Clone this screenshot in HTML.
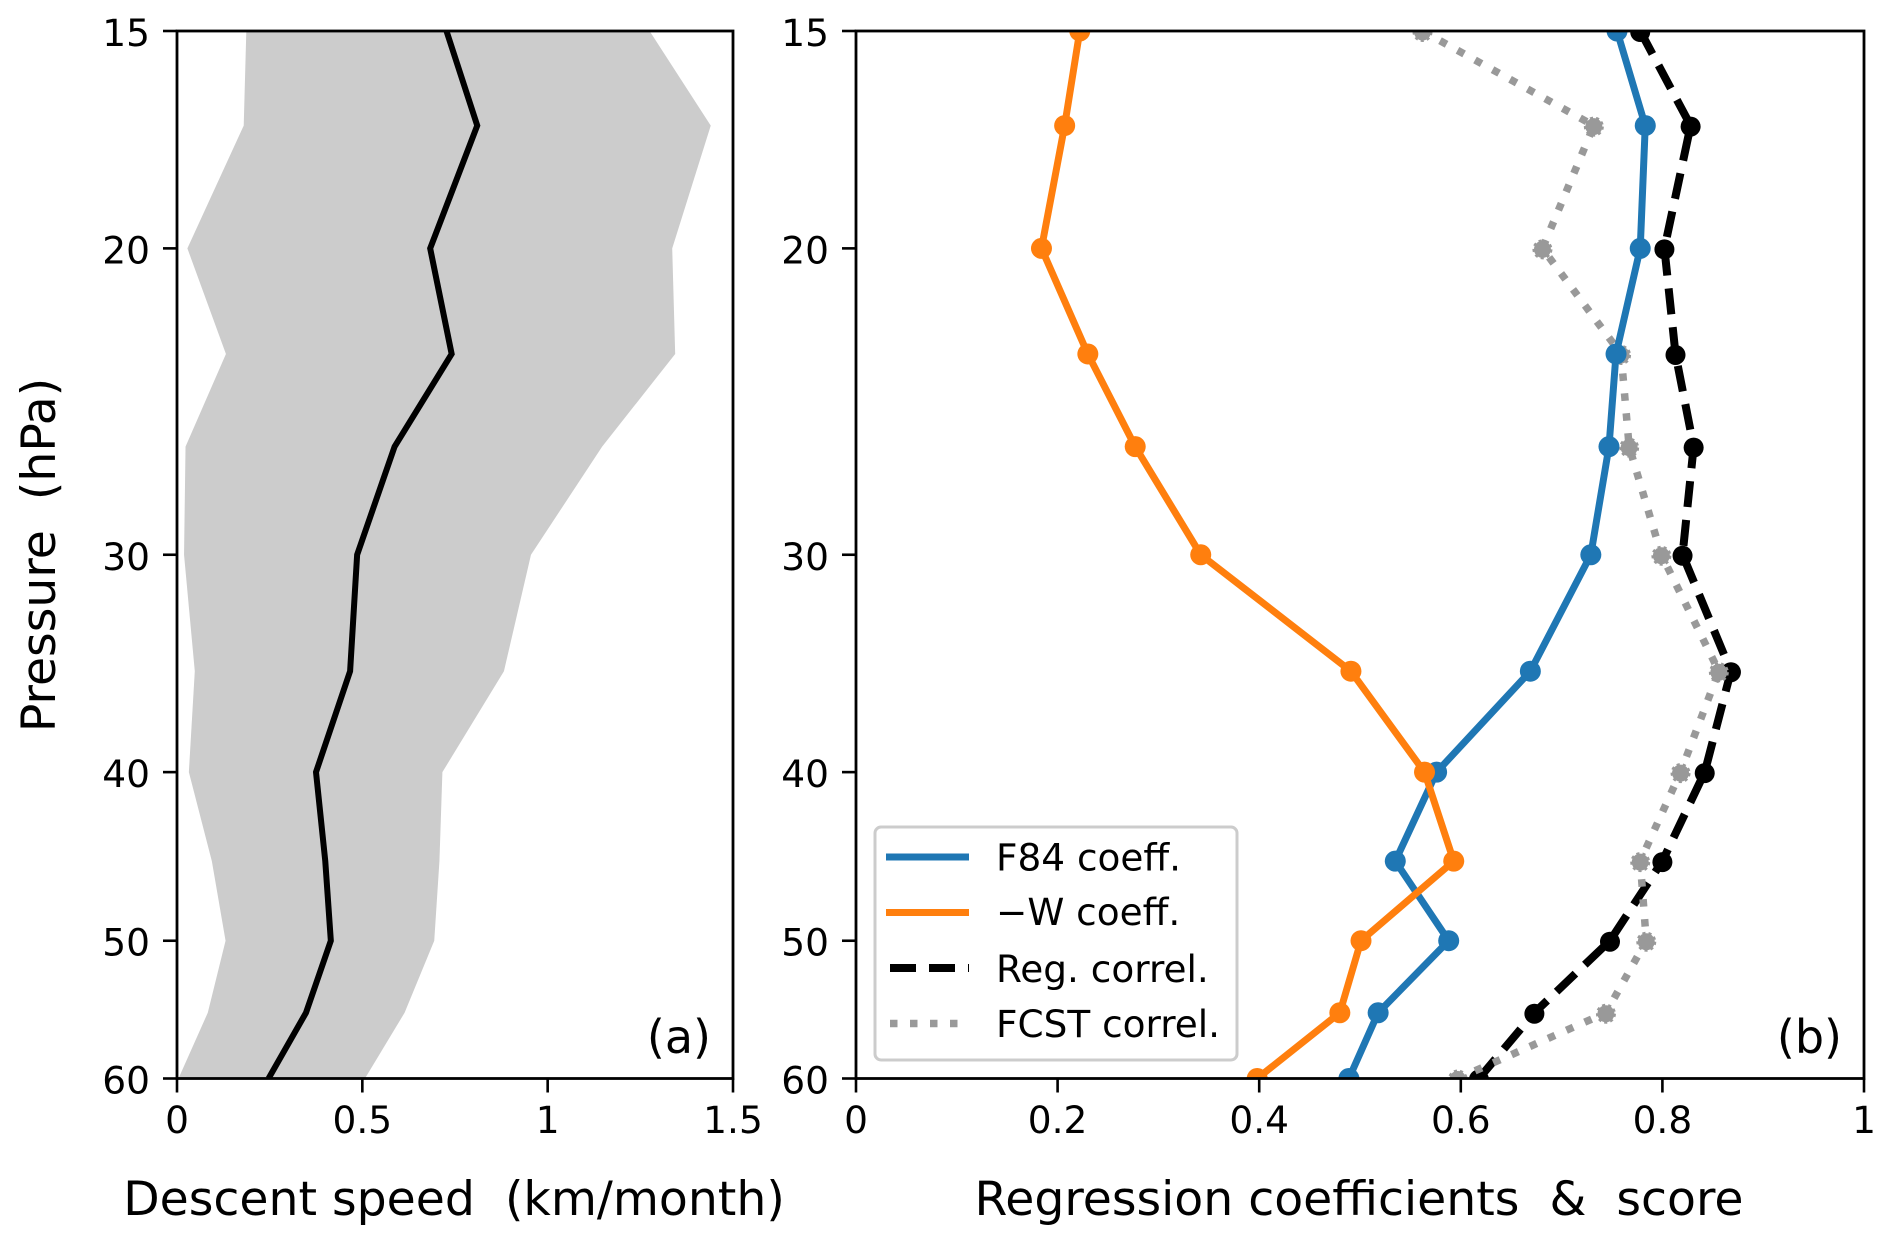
<!DOCTYPE html>
<html lang="en">
<head>
<meta charset="utf-8">
<title>Descent speed and regression profiles</title>
<style>
html,body{margin:0;padding:0;background:#fff;width:1892px;height:1244px;overflow:hidden}
svg{display:block}
text{font-family:"DejaVu Sans","Liberation Sans",sans-serif;fill:#000;white-space:pre}
</style>
</head>
<body>
<svg id="chart" xmlns="http://www.w3.org/2000/svg" width="1892" height="1244" viewBox="0 0 1892 1244">
<defs>
<clipPath id="clip-a"><rect x="177" y="31" width="556" height="1047.5"/></clipPath>
<clipPath id="clip-b"><rect x="856" y="31" width="1008" height="1047.5"/></clipPath>
</defs>
<rect width="1892" height="1244" fill="#fff"/>
<g id="panel-a"></g>
<g id="panel-b"></g>
<g id="legend">
<rect x="875" y="827" width="362" height="233" rx="6" fill="#fff" fill-opacity="0.8" stroke="#ccc" stroke-width="3"/>
<line x1="886" x2="969" y1="857" y2="857" stroke="#1f77b4" stroke-width="7"/>
<text x="996" y="870.5" font-size="37.4">F84 coeff.</text>
<line x1="886" x2="969" y1="912.5" y2="912.5" stroke="#ff7f0e" stroke-width="7"/>
<text x="996" y="925" font-size="37.4">−W coeff.</text>
<line x1="890" x2="969" y1="968" y2="968" stroke="#000" stroke-width="8" stroke-dasharray="26 13"/>
<text x="996" y="982" font-size="37.4">Reg. correl.</text>
<line x1="890" x2="969" y1="1023.5" y2="1023.5" stroke="#999" stroke-width="7.5" stroke-dasharray="7.5 12.5"/>
<text x="996" y="1037" font-size="37.4">FCST correl.</text>
</g>
</svg>
<script>
const pressureLevels = [15, 17, 20, 23, 26, 30, 35, 40, 45, 50, 55, 60];
const pressureTicks = [15, 20, 30, 40, 50, 60];
const speedTicks = [0, 0.5, 1, 1.5];
const scoreTicks = [0, 0.2, 0.4, 0.6, 0.8, 1];
const descentMean = [0.727, 0.81, 0.683, 0.741, 0.587, 0.486, 0.467, 0.375, 0.40, 0.415, 0.348, 0.247];
const descentLower = [0.187, 0.18, 0.028, 0.132, 0.023, 0.019, 0.048, 0.032, 0.094, 0.131, 0.083, 0.004];
const descentUpper = [1.275, 1.44, 1.336, 1.344, 1.147, 0.955, 0.882, 0.716, 0.708, 0.694, 0.614, 0.507];
const f84Coeff = [0.755, 0.783, 0.778, 0.754, 0.747, 0.729, 0.669, 0.576, 0.535, 0.588, 0.518, 0.489];
const wCoeff = [0.222, 0.207, 0.184, 0.23, 0.277, 0.342, 0.491, 0.564, 0.593, 0.501, 0.48, 0.398];
const regCorrel = [0.778, 0.828, 0.802, 0.813, 0.831, 0.82, 0.868, 0.842, 0.80, 0.748, 0.673, 0.618];
const fcstCorrel = [0.562, 0.732, 0.681, 0.759, 0.767, 0.799, 0.856, 0.818, 0.778, 0.784, 0.744, 0.597];

const NS = 'http://www.w3.org/2000/svg';
const TOP = 31, BOTTOM = 1078.5;
const yOf = p => TOP + (Math.log(p / 15) / Math.log(60 / 15)) * (BOTTOM - TOP);
const xA = v => 177 + (v / 1.5) * 556;
const xB = v => 856 + v * 1008;

function make(parent, tag, attrs, text) {
  const el = document.createElementNS(NS, tag);
  for (const k in attrs) el.setAttribute(k, attrs[k]);
  if (text !== undefined) el.textContent = text;
  parent.appendChild(el);
  return el;
}
function pointPair(xFn, v, p) {
  return xFn(v).toFixed(2) + ',' + yOf(p).toFixed(2);
}
function linePoints(xFn, values) {
  return values.map((v, i) => pointPair(xFn, v, pressureLevels[i])).join(' ');
}

function drawAxes(g, left, right, xFn, xTicks, prefix) {
  const frame = make(g, 'rect', {x: left, y: TOP, width: right - left, height: BOTTOM - TOP, fill: 'none', stroke: '#000', 'stroke-width': 2.8});
  
  
  pressureTicks.forEach(p => {
    const y = yOf(p);
    const t = make(g, 'line', {x1: left - 14, x2: left, y1: y, y2: y, stroke: '#000', 'stroke-width': 2.6});
    
    
    const l = make(g, 'text', {x: left - 27, y: y + 15, 'font-size': 37.5, 'text-anchor': 'end'}, String(p));
    
    
  });
  xTicks.forEach(v => {
    const x = xFn(v);
    const t = make(g, 'line', {x1: x, x2: x, y1: BOTTOM, y2: BOTTOM + 14, stroke: '#000', 'stroke-width': 2.6});
    
    
    const l = make(g, 'text', {x: x, y: 1133, 'font-size': 37.5, 'text-anchor': 'middle'}, String(v));
    
    
  });
}

function drawSeries(g, values, color, width, dash, radius, name, dotted) {
  const line = make(g, 'polyline', {points: linePoints(xB, values), fill: 'none', stroke: color, 'stroke-width': width, 'stroke-linejoin': 'miter'});
  if (dash) line.setAttribute('stroke-dasharray', dash);
  
  
  values.forEach((v, i) => {
    const c = make(g, 'circle', {cx: xB(v), cy: yOf(pressureLevels[i]) + (dash ? 1 : 0), r: radius, fill: color});
    if (dotted) {
      c.setAttribute('stroke', color);
      c.setAttribute('stroke-width', 3);
      c.setAttribute('stroke-dasharray', '3 3');
    }
    
    
  });
}

const panelA = document.getElementById('panel-a');
const plotA = make(panelA, 'g', {'clip-path': 'url(#clip-a)'});


const upperEdge = descentUpper.map((v, i) => pointPair(xA, v, pressureLevels[i])).reverse().join(' ');
const band = make(plotA, 'polygon', {points: linePoints(xA, descentLower) + ' ' + upperEdge, fill: '#cccccc'});


const meanLine = make(plotA, 'polyline', {points: linePoints(xA, descentMean), fill: 'none', stroke: '#000', 'stroke-width': 6});


drawAxes(panelA, 177, 733, xA, speedTicks, 'panel-a');

const yTitle = make(panelA, 'text', {transform: 'translate(55 555) rotate(-90)', 'font-size': 47.3, 'text-anchor': 'middle'}, 'Pressure  (hPa)');


const xTitleA = make(panelA, 'text', {x: 454, y: 1215, 'font-size': 47.3, 'text-anchor': 'middle'}, 'Descent speed  (km/month)');


const tagA = make(panelA, 'text', {x: 711, y: 1053, 'font-size': 46, 'text-anchor': 'end'}, '(a)');



const panelB = document.getElementById('panel-b');
const plotB = make(panelB, 'g', {'clip-path': 'url(#clip-b)'});


drawSeries(plotB, regCorrel, '#000', 8, '26 13', 10, 'reg-correl', false);
drawSeries(plotB, fcstCorrel, '#999999', 7.5, '7.5 12.5', 8.5, 'fcst-correl', true);
drawSeries(plotB, f84Coeff, '#1f77b4', 7, null, 10.5, 'f84-coeff', false);
drawSeries(plotB, wCoeff, '#ff7f0e', 7, null, 10.5, 'w-coeff', false);
drawAxes(panelB, 856, 1864, xB, scoreTicks, 'panel-b');

const xTitleB = make(panelB, 'text', {x: 1359, y: 1215, 'font-size': 47.3, 'text-anchor': 'middle'}, 'Regression coefficients  &  score');


const tagB = make(panelB, 'text', {x: 1842, y: 1053, 'font-size': 46, 'text-anchor': 'end'}, '(b)');


</script>
</body>
</html>
